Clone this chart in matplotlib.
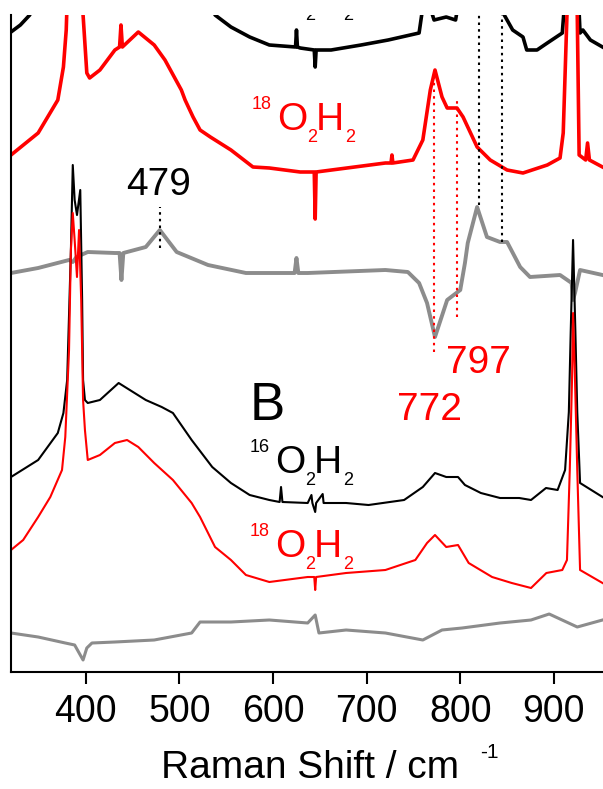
import matplotlib
matplotlib.use("Agg")
import matplotlib.pyplot as plt

plt.rcParams['font.family'] = ['Liberation Sans', 'DejaVu Sans']

# ---------------- data (Raman shift / cm-1, intensity arb. units) ----------------
# Panel A, 16O2H2 (black, mostly above the visible window)
a16_x = [320, 330, 340, 356, 370, 386, 400, 450, 500, 538, 555, 575, 596, 624, 625, 626, 629,
         644, 645, 646, 662, 694, 723, 756, 760, 766, 772, 785, 795, 800, 820, 845, 847, 856,
         867, 871, 882, 893, 909, 914, 920, 925, 928, 931, 939, 952]
a16_y = [640, 647, 657, 700, 800, 1400, 800, 900, 800, 657, 645, 635, 627, 625, 642, 625, 624,
         622, 605, 622, 622, 627, 632, 639, 665, 670, 652, 655, 652, 680, 900, 680, 657, 642,
         635, 622, 622, 629, 639, 700, 1500, 700, 639, 642, 632, 625]

# Panel A, 18O2H2 (red)
a18_x = [320, 349, 370, 376, 379, 381, 386, 392, 397, 401, 404, 415, 431, 436, 437.5, 439, 456,
         473, 484.5, 502, 506, 514.5, 522, 533, 555, 578.5, 596, 629, 644, 645, 646, 720, 726,
         727, 728, 749.5, 760, 768, 773, 780.5, 786, 796.5, 803, 818, 832, 850, 867, 893, 906.6,
         910, 914, 920, 925, 927, 934, 936, 938, 952]
a18_y = [517, 539, 572, 605, 642, 700, 1400, 700, 657, 599, 594, 602, 622, 625, 647, 625, 640,
         627, 612, 582, 572, 555, 542, 535, 522, 505, 504, 500, 500, 453, 500, 509, 509,
         517, 509, 512, 532, 582, 602, 575, 564, 564, 555, 525, 512, 502, 499, 507, 514,
         539, 657, 1500, 657, 517, 512, 529, 512, 505]

# Panel A, difference 16O - 18O (grey)
ag_x = [320, 349, 382, 386, 390, 402, 431, 436, 438, 440, 464, 479, 497, 530.5, 571, 623, 625,
        627, 637, 720, 744, 756, 764.5, 773, 786, 800, 805, 808, 818, 828.5, 842.5, 850, 864,
        874.5, 906.6, 919, 920.4, 922.6, 928, 952]
ag_y = [399, 404, 412, 410, 415, 420, 419, 419, 392, 419, 425, 442, 420, 407, 399, 399, 414,
        399, 399, 402, 400, 389, 369, 335, 372, 382, 409, 429, 465, 435, 430, 430, 405,
        395, 397, 389, 372, 379, 402, 397]

# Panel B, 16O2H2 (black)
b16_x = [320, 349, 370, 376, 380, 384, 386, 388, 390.5, 394, 396, 397, 399, 402, 415, 435, 464,
         481, 493, 513, 535, 555, 575, 596, 607, 608.5, 610, 637, 641, 642, 645, 646, 653, 654,
         678, 702, 740, 760, 773, 785, 797.6, 805, 822, 842.5, 863, 875.6, 891.6, 904, 912,
         916, 918, 920.5, 923, 925, 928, 952]
b16_y = [195, 212, 239, 259, 292, 422, 507, 472, 457, 482, 372, 292, 272, 269, 272, 289, 272,
         265, 259, 232, 205, 189, 177, 172, 170, 185, 170, 169, 177, 169, 160, 169, 178, 169,
         169, 167, 172, 185, 199, 195, 195, 187, 179, 174, 174, 172, 184, 182, 202,
         260, 340, 432, 340, 260, 189, 175]

# Panel B, 18O2H2 (red)
b18_x = [320, 333, 349, 362, 374.5, 378, 382, 384, 386, 388, 390.5, 392.7, 395, 397, 399, 402,
         415, 431, 444, 456, 473, 493, 513, 522, 538, 555, 571, 596, 637, 644, 645, 646, 678,
         720, 752, 764.5, 773, 785, 797.6, 809, 834, 855, 875.6, 892, 909, 914, 917, 919.4,
         920.5, 922.6, 925, 928, 952]
b18_y = [122, 132, 155, 175, 202, 235, 322, 422, 459, 432, 395, 442, 372, 272, 242, 212,
         217, 229, 232, 225, 209, 192, 169, 155, 125, 112, 97, 90, 95, 95, 82, 95, 99,
         102, 112, 129, 137, 125, 127, 109, 95, 89, 84, 99, 102, 112, 202, 292,
         359, 292, 202, 102, 89]

# Panel B, difference (grey)
bg_x = [320, 349, 378, 388, 397, 401, 406.5, 431, 473, 513, 522, 555, 596, 637, 645, 649, 678,
        720, 760, 780.5, 802, 842.5, 875.6, 895, 925, 952]
bg_y = [39, 35, 29, 27, 12, 24, 29, 30, 32, 39, 50, 50, 52, 49, 57, 39, 42,
        39, 32, 42, 44, 49, 52, 58, 45, 52]

# marker lines: (position, y0, y1, colour)
markers = [(479, 424, 465, 'black'), (772, 320, 594, 'red'), (797, 355, 572, 'red'),
           (820, 467, 660, 'black'), (845, 430, 660, 'black')]

xticks = [400, 500, 600, 700, 800, 900]

# ---------------- figure ----------------
W, H = 603, 789
fig = plt.figure(figsize=(W / 100, H / 100), dpi=100)
ax = fig.add_axes([11 / W, (H - 672) / H, (W - 11) / W, 657 / H])
ax.set_xlim(320, 952.5)
ax.set_ylim(0, 657)

GREY = '#8c8c8c'
ax.plot(a16_x, a16_y, color='black', lw=2.6)
ax.plot(a18_x, a18_y, color='red', lw=2.6)
ax.plot(ag_x, ag_y, color=GREY, lw=2.8)
ax.plot(b16_x, b16_y, color='black', lw=1.5)
ax.plot(b18_x, b18_y, color='red', lw=1.5)
ax.plot(bg_x, bg_y, color=GREY, lw=2.2)

for xm, y0, y1, c in markers:
    ax.plot([xm, xm], [y0, y1], color=c, lw=1.5, ls=(0, (1.2, 2.0)))

for s in ['top', 'right']:
    ax.spines[s].set_visible(False)
for s in ['left', 'bottom']:
    ax.spines[s].set_linewidth(1.5)
ax.set_yticks([])
ax.set_xticks(xticks)
ax.set_xticklabels([str(t) for t in xticks])
ax.tick_params(axis='x', direction='out', length=8.5, width=1.5, labelsize=27, pad=7)


def px(x, y):
    return 320 + (x - 11) / 0.936, 672 - y


def formula(xl, base, sup, color, clip=False):
    parts = [(0, -21, sup, 13), (25, 0, 'O', 28), (55, 12, '2', 13),
             (64, 0, 'H', 28), (93, 12, '2', 13)]
    for dx, dy, s, fs in parts:
        ax.text(*px(xl + dx, base + dy), s, color=color, fontsize=fs,
                ha='left', va='baseline', clip_on=clip)


formula(250, 8, '16', 'black', clip=True)
formula(252, 130, '18', 'red', clip=True)
formula(250, 473, '16', 'black')
formula(250, 557, '18', 'red')

ax.text(*px(159, 195), '479', color='black', fontsize=28, ha='center', va='baseline')
ax.text(*px(478, 373), '797', color='red', fontsize=28, ha='center', va='baseline')
ax.text(*px(430, 420), '772', color='red', fontsize=28, ha='center', va='baseline')
ax.text(*px(267, 420), 'B', color='black', fontsize=38, ha='center', va='baseline')

fig.text(310 / W, 1 - 778 / H, 'Raman Shift / cm', fontsize=28, ha='center', va='baseline')
fig.text(480 / W, 1 - 758 / H, '-1', fontsize=15, ha='left', va='baseline')

fig.savefig('out.png', dpi=100)
